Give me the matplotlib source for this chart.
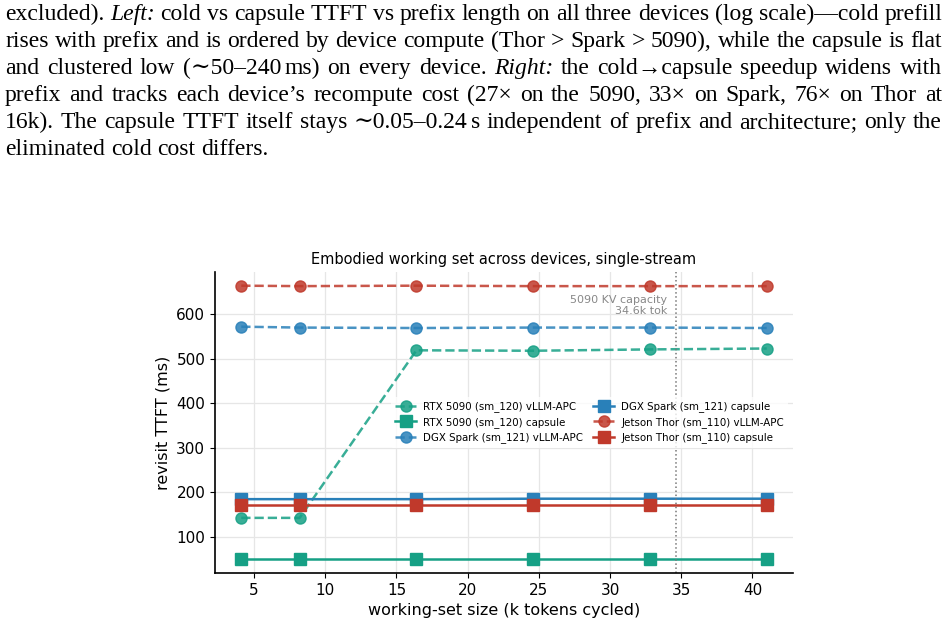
import numpy as np
import matplotlib
matplotlib.use("Agg")
import matplotlib.pyplot as plt

# working-set size in k tokens
ws_k = [4.1, 8.2, 16.4, 24.6, 32.8, 41.0]

rtx_apc = [143, 143, 519, 518, 521, 523]
rtx_cap = [50, 50, 50, 50, 50, 50]
spark_apc = [572, 570, 569, 570, 570, 569]
spark_cap = [185, 185, 185, 186, 186, 186]
thor_apc = [664, 663, 664, 663, 663, 663]
thor_cap = [173, 173, 173, 173, 173, 173]

kv_capacity_k = 34.6

series = [
    ("RTX 5090 (sm_120) vLLM-APC", rtx_apc, "#16a085", "o", "--"),
    ("RTX 5090 (sm_120) capsule", rtx_cap, "#16a085", "s", "-"),
    ("DGX Spark (sm_121) vLLM-APC", spark_apc, "#2980b9", "o", "--"),
    ("DGX Spark (sm_121) capsule", spark_cap, "#2980b9", "s", "-"),
    ("Jetson Thor (sm_110) vLLM-APC", thor_apc, "#c0392b", "o", "--"),
    ("Jetson Thor (sm_110) capsule", thor_cap, "#c0392b", "s", "-"),
]

caption = [
    ["excluded).", "*Left:", "cold", "vs", "capsule", "TTFT", "vs", "prefix", "length", "on", "all", "three",
     "devices", "(log", "scale)—cold", "prefill"],
    ["rises", "with", "prefix", "and", "is", "ordered", "by", "device", "compute", "(Thor", ">", "Spark", ">",
     "5090),", "while", "the", "capsule", "is", "flat"],
    ["and", "clustered", "low", "(\u223c50\u2013240|ms)", "on", "every", "device.", "*Right:", "the",
     "cold\u2192capsule", "speedup", "widens", "with"],
    ["prefix", "and", "tracks", "each", "device\u2019s", "recompute", "cost", "(27\u00d7", "on", "the", "5090,",
     "33\u00d7", "on", "Spark,", "76\u00d7", "on", "Thor", "at"],
    ["16k).", "The", "capsule", "TTFT", "itself", "stays", "\u223c0.05\u20130.24|s", "independent", "of", "prefix",
     "and", "architecture;", "only", "the"],
    ["eliminated", "cold", "cost", "differs."],
]

W, H = 948, 627
fig = plt.figure(figsize=(W / 100, H / 100), dpi=100)
renderer = fig.canvas.get_renderer()

serif = ["Liberation Serif", "DejaVu Serif"]
fsize = 17.0


def word_width(w):
    style = "italic" if w.startswith("*") else "normal"
    parts = w.lstrip("*").split("|")
    total = 0
    for p in parts:
        t = fig.text(0, 0, p, family=serif, size=fsize, style=style)
        total += t.get_window_extent(renderer).width
        t.remove()
    return total + 3 * (len(parts) - 1)


def draw_word(x, y, w):
    style = "italic" if w.startswith("*") else "normal"
    parts = w.lstrip("*").split("|")
    for p in parts:
        t = fig.text(x / W, 1 - y / H, p, family=serif, size=fsize, style=style, va="baseline")
        x += t.get_window_extent(renderer).width + 3


x0, x1 = 5, 942
for i, line in enumerate(caption):
    base = 20 + 27 * i
    widths = [word_width(w) for w in line]
    if i < len(caption) - 1:
        gap = (x1 - x0 - sum(widths)) / (len(line) - 1)
    else:
        gap = 6
    x = x0
    for w, wd in zip(line, widths):
        draw_word(x, base, w)
        x += wd + gap

ax = fig.add_axes([215 / W, 1 - 573 / H, (793 - 215) / W, (573 - 272) / H])

for label, vals, color, marker, ls in series:
    alpha = 0.85 if ls == "--" else 1.0
    ax.plot(ws_k, vals, linestyle=ls, marker=marker, color=color, label=label,
            linewidth=1.8, markersize=8, alpha=alpha)

ax.axvline(kv_capacity_k, color="#777777", linestyle=":", linewidth=1.1)
ax.text(kv_capacity_k - 0.6, 642, "5090 KV capacity\n34.6k tok", ha="right", va="top",
        fontsize=8, color="#888888", linespacing=1.05)

ax.set_title("Embodied working set across devices, single-stream", fontsize=10.5, pad=6)
ax.set_xlabel("working-set size (k tokens cycled)", fontsize=11.5)
ax.set_ylabel("revisit TTFT (ms)", fontsize=11.5)
ax.tick_params(labelsize=11)
ax.set_xticks([5, 10, 15, 20, 25, 30, 35, 40])
ax.set_yticks([100, 200, 300, 400, 500, 600])
ax.grid(True, color="#e6e6e6", linewidth=0.9)
ax.set_axisbelow(True)
for s in ["top", "right"]:
    ax.spines[s].set_visible(False)
for s in ["left", "bottom"]:
    ax.spines[s].set_linewidth(1.2)

ax.legend(ncol=2, fontsize=7.4, loc="center right", bbox_to_anchor=(1.0, 0.5),
          frameon=True, framealpha=0.8, edgecolor="none", handlelength=2.0,
          handletextpad=0.7, columnspacing=1.0, labelspacing=0.45)

fig.savefig("out.png", dpi=100)
